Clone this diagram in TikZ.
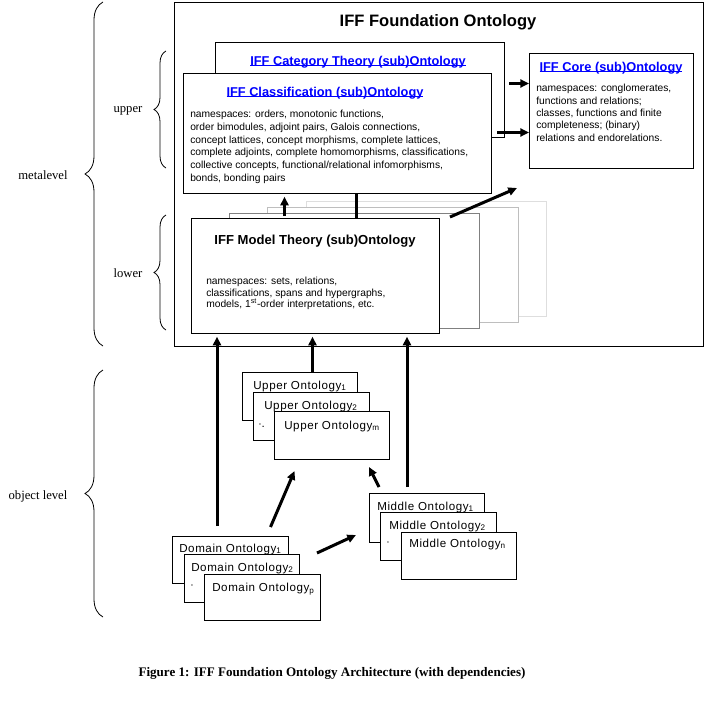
\documentclass[tikz,border=0pt]{standalone}
\usepackage{fontspec}
\setmainfont{Liberation Serif}
\setsansfont{Liberation Sans}
\usetikzlibrary{arrows.meta,decorations.pathreplacing}
\definecolor{linkblue}{RGB}{0,0,255}
\definecolor{grigioA}{RGB}{128,128,128}
\definecolor{grigioB}{RGB}{190,190,190}
\definecolor{grigioC}{RGB}{222,222,222}
\newsavebox\boxlink
\newcommand\sottolinea[1]{\sbox\boxlink{#1}\rlap{\rule[-0.2pt]{\wd\boxlink}{0.6pt}}\usebox\boxlink}

\begin{document}
\begin{tikzpicture}[x=0.75pt, y=-0.75pt]
	% Stili per riquadri, testi, frecce e graffe
	\tikzset{
		riquadro/.style={draw, fill=white, anchor=north west, inner sep=0pt, line width=0.75pt},
		misura/.style 2 args={minimum width=#1*0.75pt, minimum height=#2*0.75pt},
		titolo/.style={font=\sffamily\bfseries\fontsize{12.4}{14}\selectfont},
		link/.style={font=\sffamily\bfseries\fontsize{9.6}{11}\selectfont, text=linkblue, inner sep=0pt},
		nero/.style={font=\sffamily\bfseries\fontsize{9.8}{11}\selectfont, inner sep=0pt},
		testo/.style={font=\sffamily\fontsize{7.7}{9.5}\selectfont, align=left, anchor=north west, inner sep=0pt},
		onto/.style={font=\sffamily\fontsize{8.7}{10}\selectfont\addfontfeatures{LetterSpace=5}, anchor=west, inner sep=0pt},
		serif/.style={font=\rmfamily\fontsize{9.5}{11}\selectfont},
		didascalia/.style={font=\rmfamily\bfseries\fontsize{9.8}{11}\selectfont},
		freccia/.style={line width=2.25pt, -{Triangle[length=6.5pt,width=6pt]}},
		linea/.style={line width=2.25pt},
		graffa/.style={decorate, decoration={brace, amplitude=#1}, line width=0.6pt}
	}
	\useasboundingbox (0,0) rectangle (706,700);

	% Riquadro principale
	\node[riquadro, misura={529}{344}] (fond) at (174,2) {};
	\node[titolo] (fondT) at (438,22) {IFF Foundation Ontology};

	% Sotto-ontologie del livello superiore
	\node[riquadro, misura={289}{95}] (cat) at (215,42) {};
	\node[link] (catT) at (358,62) {\sottolinea{IFF Category Theory (sub)Ontology}};
	\node[riquadro, misura={308}{120}] (cls) at (183,73) {};
	\node[link] (clsT) at (325,93) {\sottolinea{IFF Classification (sub)Ontology}};
	\node[testo] (clsX) at (190,110) {namespaces: orders, monotonic functions,\\
		order bimodules, adjoint pairs, Galois connections,\\
		concept lattices, concept morphisms, complete lattices,\\
		complete adjoints, complete homomorphisms, classifications,\\
		collective concepts, functional/relational infomorphisms,\\
		bonds, bonding pairs};
	\node[riquadro, misura={164}{115}] (core) at (529,53) {};
	\node[link] (coreT) at (611,68) {\sottolinea{IFF Core (sub)Ontology}};
	\node[testo, font=\sffamily\fontsize{7.7}{9.3}\selectfont] (coreX) at (536,84) {namespaces: conglomerates,\\
		functions and relations;\\
		classes, functions and finite\\
		completeness; (binary)\\
		relations and endorelations.};

	% Pila della Model Theory
	\node[riquadro, draw=grigioC, misura={240}{115}] (pila3) at (306,201) {};
	\node[riquadro, draw=grigioB, misura={251}{115}] (pila2) at (267,207) {};
	\node[riquadro, draw=grigioA, misura={250}{115}] (pila1) at (229,213) {};
	\node[riquadro, misura={248}{115}] (model) at (191,218) {};
	\node[nero] (modelT) at (315,241) {IFF Model Theory (sub)Ontology};
	\node[testo, font=\sffamily\fontsize{7.7}{8.6}\selectfont] (modelX) at (206,277) {namespaces: sets, relations,\\
		classifications, spans and hypergraphs,\\
		models, 1\textsuperscript{st}-order interpretations, etc.};

	% Ontologie del livello oggetto
	\node[riquadro, misura={115}{48}] (up1) at (242,372) {};
	\node[onto] (up1T) at (253,386) {Upper Ontology\textsubscript{1}};
	\node[riquadro, misura={116}{48}] (up2) at (253,392) {};
	\node[onto] (up2T) at (264,406) {Upper Ontology\textsubscript{2}};
	\node[onto] (upD) at (258,425) {$\cdot$.};
	\node[riquadro, misura={115}{48}] (upm) at (274,411) {};
	\node[onto] (upmT) at (284,426) {Upper Ontology\textsubscript{m}};

	\node[riquadro, misura={115}{49}] (mid1) at (369,493) {};
	\node[onto] (mid1T) at (377,507) {Middle Ontology\textsubscript{1}};
	\node[riquadro, misura={116}{48}] (mid2) at (380,512) {};
	\node[onto] (mid2T) at (389,526) {Middle Ontology\textsubscript{2}};
	\node[onto] (midD) at (386,543) {$\cdot$};
	\node[riquadro, misura={115}{47}] (midn) at (401,532) {};
	\node[onto] (midnT) at (409,544) {Middle Ontology\textsubscript{n}};

	\node[riquadro, misura={116}{47}] (dom1) at (172,536) {};
	\node[onto] (dom1T) at (179,549) {Domain Ontology\textsubscript{1}};
	\node[riquadro, misura={115}{48}] (dom2) at (184,554) {};
	\node[onto] (dom2T) at (191,568) {Domain Ontology\textsubscript{2}};
	\node[onto] (domD) at (190,586) {$\cdot$};
	\node[riquadro, misura={116}{46}] (domp) at (204,574) {};
	\node[onto] (dompT) at (212,589) {Domain Ontology\textsubscript{p}};

	% Dipendenze nel livello superiore
	\coordinate (c1) at ([shift={(4,-6.5)}]cat.east);
	\coordinate (c2) at ([shift={(5,-1)}]cls.east);
	\draw[freccia] (c1) -- (c1 -| core.west);
	\draw[freccia] (c2) -- (c2 -| core.west);
	\draw[freccia] ([shift={(10,-1)}]model.north east) -- ([shift={(-12,19)}]core.south west);
	\coordinate (c3) at ([shift={(-31,-2)}]model.north);
	\coordinate (c4) at ([shift={(41,0)}]model.north);
	\draw[freccia, shorten >=2pt] (c3) -- (c3 |- cls.south);
	\draw[linea] (c4 |- cls.south) -- (c4);

	% Dipendenze verso la Model Theory
	\coordinate (c5) at ([shift={(45,-10)}]dom1.north west);
	\coordinate (c6) at ([shift={(12.5,0)}]up1.north);
	\coordinate (c7) at ([shift={(38,-6)}]mid1.north west);
	\draw[freccia, shorten >=2pt] (c5) -- (c5 |- model.south);
	\draw[freccia, shorten >=2pt] (c6) -- (c6 |- model.south);
	\draw[freccia, shorten >=2pt] (c7) -- (c7 |- model.south);

	% Dipendenze nel livello oggetto
	\draw[freccia] ([shift={(40,-9)}]dom1.north) -- ([shift={(-37.5,11)}]upm.south);
	\draw[freccia] ([shift={(10,-6)}]mid1.north west) -- ([shift={(-21,7)}]upm.south east);
	\draw[freccia] ([shift={(17,-1)}]dom2.north east) -- ([shift={(-13,-8)}]mid1.south west);

	% Graffe e livelli
	\draw[graffa=13.5pt] (103,346) -- (103,2);
	\draw[graffa=9pt] (166,168) -- (166,51);
	\draw[graffa=9pt] (166,330) -- (166,215);
	\draw[graffa=13.5pt] (103,617) -- (103,370);
	\node[serif] (meta) at (43,175) {metalevel};
	\node[serif] (upper) at (128,111) {upper};
	\node[serif] (lower) at (128,273) {lower};
	\node[serif] (objlev) at (38,496) {object level};

	% Didascalia
	\node[didascalia] (cap) at (332,673) {Figure 1: IFF Foundation Ontology Architecture (with dependencies)};
\end{tikzpicture}
\end{document}
